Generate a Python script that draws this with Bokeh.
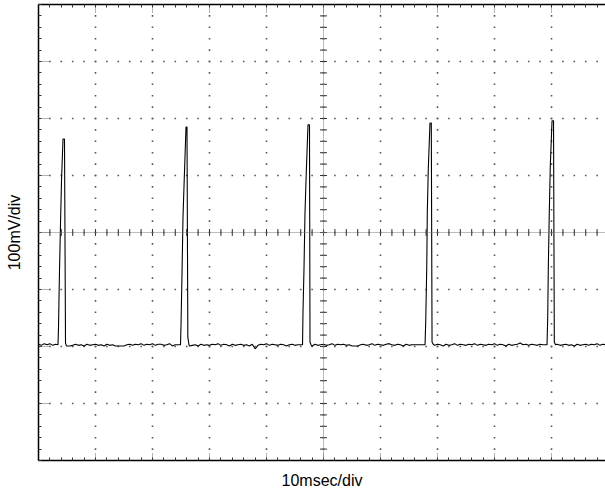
import numpy as np
from bokeh.plotting import figure
from bokeh.models import FixedTicker, Span, LinearAxis, Range1d, ColumnDataSource
from bokeh.embed import file_html
from bokeh.resources import INLINE

# ---------------- data (time in ms, voltage in mV) ----------------
baseline_step_ms = 0.5
baseline_mv = [
    -196, -198, -195, -197, -195, -198, -196, -197, -197, -197,
    -199, -199, -198, -196, -198, -197, -199, -196, -198, -197,
    -196, -198, -197, -199, -196, -198, -197, -199, -199, -199,
    -199, -197, -196, -198, -196, -197, -195, -198, -196, -197,
    -195, -198, -196, -196, -198, -197, -195, -199, -197, -197,
    -197, -197, -197, -199, -198, -197, -199, -196, -198, -197,
    -198, -196, -197, -195, -198, -196, -197, -199, -196, -198,
    -197, -196, -198, -197, -199, -196, -204, -198, -196, -197,
    -195, -198, -196, -197, -198, -196, -197, -199, -197, -196,
    -198, -197, -197, -197, -197, -196, -199, -196, -198, -197,
    -196, -198, -197, -195, -198, -196, -197, -196, -198, -197,
    -199, -199, -199, -197, -196, -198, -197, -195, -198, -196,
    -197, -198, -196, -195, -197, -198, -196, -197, -199, -196,
    -198, -197, -197, -197, -197, -197, -196, -199, -197, -198,
    -196, -197, -199, -196, -198, -197, -195, -198, -196, -197,
    -198, -196, -197, -195, -198, -196, -197, -198, -196, -197,
    -195, -198, -196, -197, -199, -196, -198, -197, -196, -194,
    -197, -196, -198, -196, -197, -198, -196, -197, -197, -197,
    -197, -199, -196, -198, -197, -196, -198, -197, -199, -196,
    -198, -197, -196, -198, -196, -197, -195, -198, -196, -197,
]

pulse1_t = [3.42, 3.51, 3.68, 3.86, 4.04, 4.30, 4.56, 4.74, 4.90]
pulse1_v = [-197, -166, -69, 15, 92, 164, 164, -194, -199]
pulse2_t = [24.91, 25.00, 25.18, 25.35, 25.58, 25.88, 26.05, 26.20, 26.40]
pulse2_v = [-197, -163, -70, 27, 97, 185, 185, -184, -197]
pulse3_t = [46.32, 46.40, 46.58, 46.75, 46.98, 47.28, 47.54, 47.63, 47.85]
pulse3_v = [-197, -140, -62, 34, 106, 189, 189, -192, -198]
pulse4_t = [67.81, 67.93, 68.11, 68.21, 68.39, 68.68, 68.91, 69.04, 69.25]
pulse4_v = [-197, -157, -62, 36, 114, 192, 192, -192, -196]
pulse5_t = [89.21, 89.33, 89.44, 89.61, 89.79, 90.09, 90.35, 90.49, 90.70]
pulse5_v = [-197, -150, -60, 36, 118, 196, 196, -192, -197]

x_major = [0, 10, 20, 30, 40, 50, 60, 70, 80, 90, 100]
x_minor = list(range(0, 101, 2))
y_major = [-400, -300, -200, -100, 0, 100, 200, 300, 400]
y_minor = list(range(-400, 401, 20))

x_label = "10msec/div"
y_label = "100mV/div"

# ---------------- build trace ----------------
pulses = [(pulse1_t, pulse1_v), (pulse2_t, pulse2_v), (pulse3_t, pulse3_v),
          (pulse4_t, pulse4_v), (pulse5_t, pulse5_v)]
pts = []
for i, v in enumerate(baseline_mv):
    t = i * baseline_step_ms
    if any(pt[0] <= t <= pt[-1] for pt, _ in pulses):
        continue
    pts.append((t, v))
for pt, pv in pulses:
    pts.extend(zip(pt, pv))
pts.sort()
trace = ColumnDataSource(data=dict(t=[a for a, _ in pts], v=[b for _, b in pts]))

# ---------------- figure ----------------
p = figure(width=605, height=494, x_range=Range1d(0, 99.47), y_range=Range1d(-400, 400),
           output_backend="svg", toolbar_location=None,
           min_border_left=38, min_border_right=0, min_border_top=4, min_border_bottom=34,
           x_axis_label=x_label, y_axis_label=y_label)
p.outline_line_color = None
p.background_fill_color = "white"
p.border_fill_color = "white"
p.xgrid.visible = False
p.ygrid.visible = False

bottom_axis = p.below[0]
left_axis = p.left[0]
top_axis = LinearAxis()
p.add_layout(top_axis, "above")

for ax, mnr in ((bottom_axis, x_minor), (top_axis, x_minor), (left_axis, y_minor)):
    ax.ticker = FixedTicker(ticks=[], minor_ticks=mnr)
    ax.major_tick_in = 0
    ax.major_tick_out = 0
    ax.minor_tick_in = 3
    ax.minor_tick_out = 0
    ax.minor_tick_line_color = "#333333"
    ax.axis_line_color = "black"
    ax.axis_line_width = 1.5
    ax.major_label_standoff = 0
    ax.axis_label_text_font = "Liberation Sans"
    ax.axis_label_text_font_size = "16px"
    ax.axis_label_text_font_style = "normal"
    ax.axis_label_text_color = "black"

bottom_axis.axis_label_standoff = 11
left_axis.axis_label_standoff = 16
top_axis.axis_label = None

# longer dotted ticks at each division along the frame edges (half clipped by the frame)
p.scatter(x=x_major, y=[y_major[0]] * len(x_major), marker="dash", size=16, angle=np.pi / 2,
          line_color="#666666", line_dash="1 1", line_width=1)
p.scatter(x=x_major, y=[y_major[-1]] * len(x_major), marker="dash", size=16, angle=np.pi / 2,
          line_color="#666666", line_dash="1 1", line_width=1)
p.scatter(x=[x_major[0]] * len(y_major), y=y_major, marker="dash", size=22,
          line_color="#666666", line_dash="1 1", line_width=1)

# dotted graticule: a dot at every minor position along each major line
gx, gy = [], []
for xm in x_major[1:-1]:
    for ym in y_minor:
        gx.append(xm); gy.append(ym)
for ym in y_major[1:-1]:
    for xm in x_minor:
        gx.append(xm); gy.append(ym)
p.scatter(x=gx, y=gy, marker="square", size=1.6, line_color=None, fill_color="#555555")

# center cross
p.add_layout(Span(location=0, dimension="width", line_color="#777777", line_dash="1 1", line_width=1))
p.add_layout(Span(location=50, dimension="height", line_color="#777777", line_dash="1 1", line_width=1))
p.scatter(x=x_minor, y=[0] * len(x_minor), marker="dash", size=7, angle=np.pi / 2,
          line_color="#333333", line_width=1)
p.scatter(x=[50] * len(y_minor), y=y_minor, marker="dash", size=7,
          line_color="#333333", line_width=1)

p.line("t", "v", source=trace, line_color="black", line_width=1.1)

open("out.html", "w").write(file_html(p, INLINE))
